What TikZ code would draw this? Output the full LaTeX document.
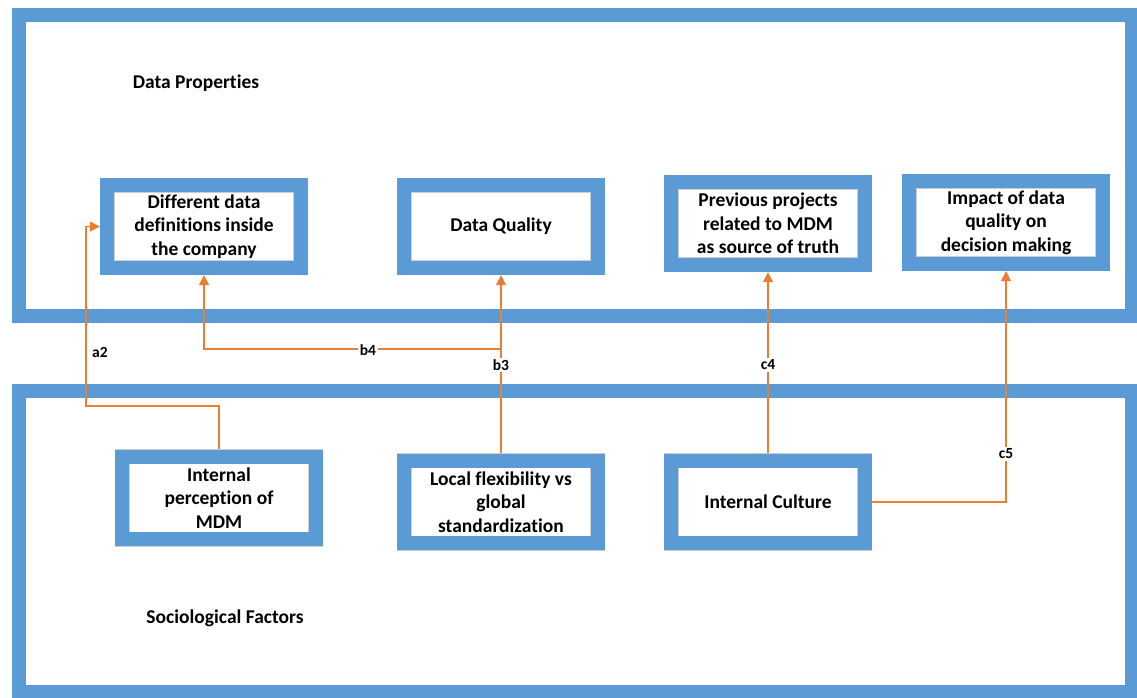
\documentclass[tikz,border=0pt]{standalone}
\usepackage{fontspec}
\setmainfont{Carlito}[Ligatures=NoCommon]
\usetikzlibrary{arrows.meta}

\definecolor{bandblue}{RGB}{91,155,213}
\definecolor{linkorange}{RGB}{237,125,49}
\definecolor{rimgray}{RGB}{205,205,205}

\tikzset{
  band/.style={rectangle, draw=rimgray, line width=0.6pt, double=bandblue,
    double distance=13.6pt, inner sep=0pt, outer sep=7.4pt},
  factorbox/.style={band, align=center, minimum width=193.5pt, minimum height=82.5pt,
    font=\bfseries\fontsize{19.5}{23.5}\selectfont},
  heading/.style={font=\bfseries\fontsize{19.5}{23.5}\selectfont, inner sep=0pt},
  link/.style={draw=linkorange, line width=1.5pt},
  tip/.style={-{Triangle[width=10pt,length=10pt]}},
  linklabel/.style={font=\bfseries\fontsize{15.5}{18}\selectfont, fill=white, inner sep=1.5pt}
}

\begin{document}
\begin{tikzpicture}[x=1pt,y=-1pt]
  \useasboundingbox (0,0) rectangle (1137,697);

  % the two group frames
  \node[band, minimum width=1113pt, minimum height=301pt] (top) at (575.5,165.5) {};
  \node[band, minimum width=1113pt, minimum height=301pt] (bottom) at (575.5,541.5) {};
  \node[heading] (dp) at (196,83) {Data Properties};
  \node[heading] (sf) at (225,618) {Sociological Factors};

  % data properties
  \node[factorbox] (defs) at (204,226.5) {Different data\\definitions inside\\the company};
  \node[factorbox] (quality) at (501,226.5) {Data Quality};
  \node[factorbox] (prev) at (768,223.5) {Previous projects\\related to MDM\\as source of truth};
  \node[factorbox] (impact) at (1006,222.5) {Impact of data\\quality on\\decision making};

  % sociological factors
  \node[factorbox] (perc) at (219,498) {Internal\\perception of\\MDM};
  \node[factorbox] (local) at (501,502) {Local flexibility vs\\global\\standardization};
  \node[factorbox] (culture) at (768,502) {Internal Culture};

  % connectors
  \coordinate (a2bend) at (86,406);
  \coordinate (bsplit) at (501,349);
  \draw[link, tip] (perc.north) |- (a2bend) |- (defs.west);
  \draw[link, tip] (local.north) -- (quality.south);
  \draw[link, tip] (bsplit) -| (defs.south);
  \draw[link, tip] (culture.north) -- (prev.south);
  \draw[link, tip] (culture.east) -| (impact.south);

  % connector labels
  \node[font=\bfseries\fontsize{15.5}{18}\selectfont, inner sep=0pt] (la2) at (100,352) {a2};
  \node[linklabel] (lb4) at (368,350) {b4};
  \node[linklabel] (lb3) at (501,365) {b3};
  \node[linklabel] (lc4) at (768,365) {c4};
  \node[linklabel] (lc5) at (1006,454) {c5};
\end{tikzpicture}
\end{document}
